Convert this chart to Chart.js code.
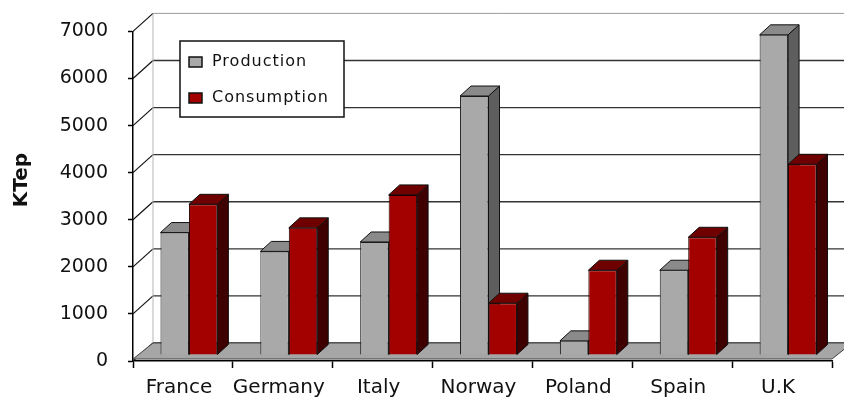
<!DOCTYPE html>
<html>
<head>
<meta charset="utf-8">
<style>
  html, body { margin: 0; padding: 0; background: #fff; }
</style>
<script src="https://cdn.jsdelivr.net/npm/chart.js"></script>
</head>
<body>
<canvas id="chart" width="844" height="402"></canvas>

<script>
const categories = ['France', 'Germany', 'Italy', 'Norway', 'Poland', 'Spain', 'U.K'];
const production = [2600, 2200, 2400, 5500, 300, 1800, 6800];
const consumption = [3200, 2700, 3400, 1100, 1800, 2500, 4050];
const seriesNames = ['Production', 'Consumption'];
const yTitle = 'KTep';

// 3D look: back wall offset, bar depth, bar shift into the floor
const WALL = { dx: 20, dy: -18 };
const DEPTH = { dx: 11, dy: -10 };
const SHIFT = { dx: 6, dy: -6 };
const FACES = [
  { side: '#5e5e5e', top: '#8a8a8a' },
  { side: '#3e0000', top: '#6e0000' }
];

function poly(ctx, pts, fill, stroke) {
  ctx.beginPath();
  ctx.moveTo(pts[0][0], pts[0][1]);
  for (let i = 1; i < pts.length; i++) ctx.lineTo(pts[i][0], pts[i][1]);
  ctx.closePath();
  ctx.fillStyle = fill;
  ctx.fill();
  if (stroke) { ctx.strokeStyle = stroke; ctx.lineWidth = 1; ctx.stroke(); }
}

const threeD = {
  id: 'threeD',
  beforeDatasetsDraw(chart) {
    const { ctx, chartArea: a, scales: { y } } = chart;
    const y0 = y.getPixelForValue(0);
    const yTop = y.getPixelForValue(y.max);

    ctx.save();
    // back wall gridlines + diagonals from the axis ticks
    y.ticks.forEach(t => {
      const py = y.getPixelForValue(t.value);
      ctx.beginPath();
      ctx.strokeStyle = '#111';
      ctx.lineWidth = 1.2;
      ctx.moveTo(a.left, py);
      ctx.lineTo(a.left + WALL.dx, py + WALL.dy);
      ctx.stroke();
      ctx.beginPath();
      ctx.strokeStyle = t.value === y.max ? '#9a9a9a' : '#333';
      ctx.lineWidth = t.value === y.max ? 1 : 1.3;
      ctx.moveTo(a.left + WALL.dx, py + WALL.dy);
      ctx.lineTo(chart.width, py + WALL.dy);
      ctx.stroke();
    });
    // back left edge of wall
    ctx.beginPath();
    ctx.strokeStyle = '#b5b5b5';
    ctx.lineWidth = 1;
    ctx.moveTo(a.left + WALL.dx, yTop + WALL.dy);
    ctx.lineTo(a.left + WALL.dx, y0 + WALL.dy);
    ctx.stroke();

    // floor
    poly(ctx, [
      [a.left, y0 - 2], [a.right, y0 - 2],
      [a.right + WALL.dx, y0 + WALL.dy], [a.left + WALL.dx, y0 + WALL.dy]
    ], '#a6a6a6', '#444');
    ctx.restore();

    // side and top faces of bars, then the library draws the fronts
    ctx.save();
    ctx.translate(SHIFT.dx, SHIFT.dy);
    chart.data.datasets.forEach((ds, i) => {
      const f = FACES[i];
      chart.getDatasetMeta(i).data.forEach(bar => {
        const { x, y: top, base, width } = bar.getProps(['x', 'y', 'base', 'width'], true);
        const l = x - width / 2, r = x + width / 2;
        poly(ctx, [[r, top], [r + DEPTH.dx, top + DEPTH.dy], [r + DEPTH.dx, base + DEPTH.dy], [r, base]], f.side, '#111');
        poly(ctx, [[l, top], [l + DEPTH.dx, top + DEPTH.dy], [r + DEPTH.dx, top + DEPTH.dy], [r, top]], f.top, '#111');
      });
    });
  },
  afterDatasetsDraw(chart) {
    chart.ctx.restore();
  },
  afterDraw(chart) {
    const { ctx } = chart;
    ctx.save();
    // y title
    ctx.translate(22, 180);
    ctx.rotate(-Math.PI / 2);
    ctx.font = 'bold 20px "DejaVu Sans"';
    ctx.fillStyle = '#111';
    ctx.textAlign = 'center';
    ctx.textBaseline = 'middle';
    ctx.fillText(yTitle, 0, 0);
    ctx.restore();

    // legend box
    ctx.save();
    ctx.fillStyle = '#fff';
    ctx.fillRect(180, 41, 164, 76);
    ctx.strokeStyle = '#111';
    ctx.lineWidth = 1.5;
    ctx.strokeRect(180, 41, 164, 76);
    ctx.font = '16px "DejaVu Sans"';
    ctx.letterSpacing = '1px';
    ctx.textBaseline = 'middle';
    chart.data.datasets.forEach((ds, i) => {
      const cy = 62 + i * 36;
      ctx.fillStyle = ds.backgroundColor;
      ctx.fillRect(189, cy - 5, 13, 10);
      ctx.strokeStyle = '#111';
      ctx.lineWidth = 1.5;
      ctx.strokeRect(189, cy - 5, 13, 10);
      ctx.fillStyle = '#111';
      ctx.fillText(ds.label, 212, cy);
    });
    ctx.restore();
  }
};

new Chart(document.getElementById('chart'), {
  type: 'bar',
  data: {
    labels: categories,
    datasets: [
      { label: seriesNames[0], data: production, backgroundColor: '#a9a9a9', borderColor: '#1a1a1a', borderWidth: 1 },
      { label: seriesNames[1], data: consumption, backgroundColor: '#a30000', borderColor: '#1a0000', borderWidth: 1 }
    ]
  },
  options: {
    responsive: false,
    animation: false,
    layout: { padding: { left: 0, right: 12, top: 30, bottom: 0 } },
    datasets: { bar: { categoryPercentage: 0.57, barPercentage: 1 } },
    plugins: { legend: { display: false }, tooltip: { enabled: false } },
    scales: {
      x: {
        grid: { offset: true, drawOnChartArea: false, tickLength: 7, tickColor: '#000', tickWidth: 1.5 },
        border: { color: '#000', width: 1.5 },
        ticks: { font: { family: 'DejaVu Sans', size: 20 }, color: '#111', padding: 8, maxRotation: 0, labelOffset: -4 },
        afterFit(s) { s.height = 41; }
      },
      y: {
        min: 0,
        max: 7000,
        ticks: {
          stepSize: 1000,
          font: { family: 'DejaVu Sans', size: 19 },
          color: '#111',
          padding: 20,
          callback: v => String(v)
        },
        grid: { drawOnChartArea: false, tickLength: 5, tickColor: '#000', tickWidth: 1.5 },
        border: { color: '#000', width: 1.5 },
        afterFit(s) { s.width = 133; }
      }
    }
  },
  plugins: [threeD]
});
</script>
</body>
</html>
